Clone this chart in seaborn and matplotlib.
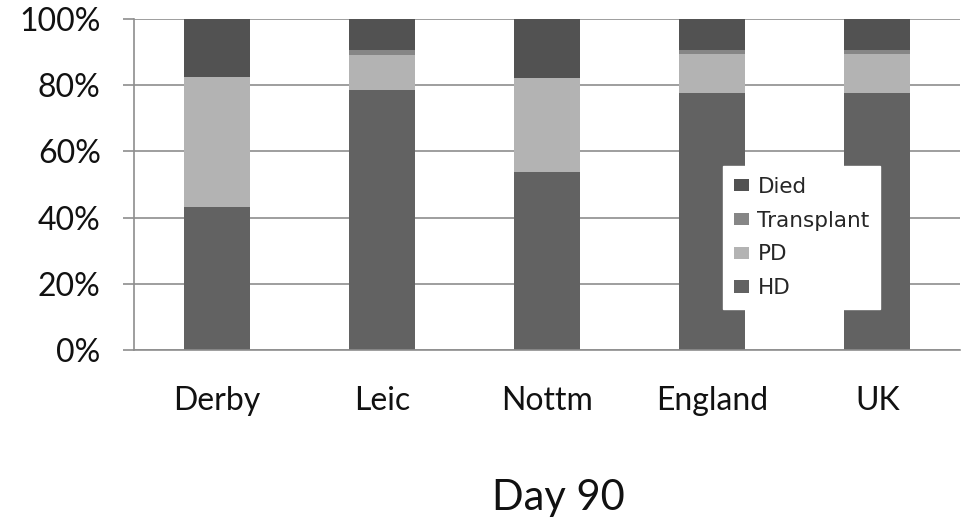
import matplotlib
matplotlib.use("Agg")
import matplotlib.pyplot as plt
from matplotlib.patches import Patch
import numpy as np
import pandas as pd
import seaborn as sns

# Outcome at day 90, percentage of patients per area
areas = ["Derby", "Leic", "Nottm", "England", "UK"]
hd = [43.1, 78.5, 53.7, 77.6, 77.7]
pd_vals = [39.3, 10.5, 28.4, 11.9, 11.8]
transplant = [0.0, 1.6, 0.0, 1.1, 1.0]
died = [17.6, 9.4, 17.9, 9.4, 9.5]

series_names = ["HD", "PD", "Transplant", "Died"]
series_values = [hd, pd_vals, transplant, died]
series_colors = ["#626262", "#b3b3b3", "#868686", "#525252"]

y_ticks = [0, 20, 40, 60, 80, 100]
y_tick_labels = ["0%", "20%", "40%", "60%", "80%", "100%"]
x_title = "Day 90"

sns.set_style("white")
plt.rcParams["font.family"] = ["Lato", "DejaVu Sans"]

grey = "#8e8e8e"

fig = plt.figure(figsize=(9.61, 5.19), dpi=100)
ax = fig.add_axes([0.1394, 0.3256, 0.8596, 0.6378])

# Stacked bars: draw cumulative totals from the top segment down
cum = np.cumsum(np.array(series_values), axis=0)
for i in range(len(series_names) - 1, -1, -1):
    df = pd.DataFrame({"area": areas, "value": cum[i]})
    sns.barplot(data=df, x="area", y="value", color=series_colors[i],
                width=0.4, saturation=1, linewidth=0, ax=ax, zorder=2)

ax.set_ylim(0, 100)
ax.set_xlim(-0.5, len(areas) - 0.5)
ax.set_yticks(y_ticks)
ax.set_yticklabels(y_tick_labels)
ax.set_xlabel("")
ax.set_ylabel("")

# horizontal gridlines
ax.yaxis.grid(True, color=grey, linewidth=1.2, zorder=0)
ax.set_axisbelow(True)

for side in ["top", "right"]:
    ax.spines[side].set_visible(False)
for side in ["left", "bottom"]:
    ax.spines[side].set_color(grey)
    ax.spines[side].set_linewidth(1.2)

# category labels centred between boundary tick marks
ax.set_xticks(np.arange(len(areas)))
ax.set_xticklabels(areas)
ax.tick_params(axis="x", which="major", length=0, pad=26, labelsize=23,
               labelcolor="#111111")
ax.set_xticks(np.arange(len(areas) + 1) - 0.5, minor=True)
ax.tick_params(axis="x", which="minor", length=9, width=1.2, color=grey,
               direction="out")
ax.tick_params(axis="y", length=8, width=1.2, color=grey, pad=16,
               labelsize=23, labelcolor="#111111", left=True)

handles = [Patch(facecolor=series_colors[i], edgecolor="none", label=series_names[i])
           for i in range(len(series_names) - 1, -1, -1)]
leg = ax.legend(handles=handles, loc="upper left", bbox_to_anchor=(0.713, 0.556),
                frameon=True, fancybox=False, borderaxespad=0, borderpad=0.5,
                labelspacing=0.64, handlelength=0.7, handleheight=0.5,
                handletextpad=0.4, prop={"family": "DejaVu Sans", "size": 15.5})
leg.get_frame().set_facecolor("white")
leg.get_frame().set_edgecolor("white")
leg.get_frame().set_alpha(1)
leg.set_zorder(5)

fig.text(0.581, 0.0173, x_title, ha="center", va="baseline", fontsize=30,
         color="#111111")

fig.savefig("out.png", dpi=100, facecolor="white")
